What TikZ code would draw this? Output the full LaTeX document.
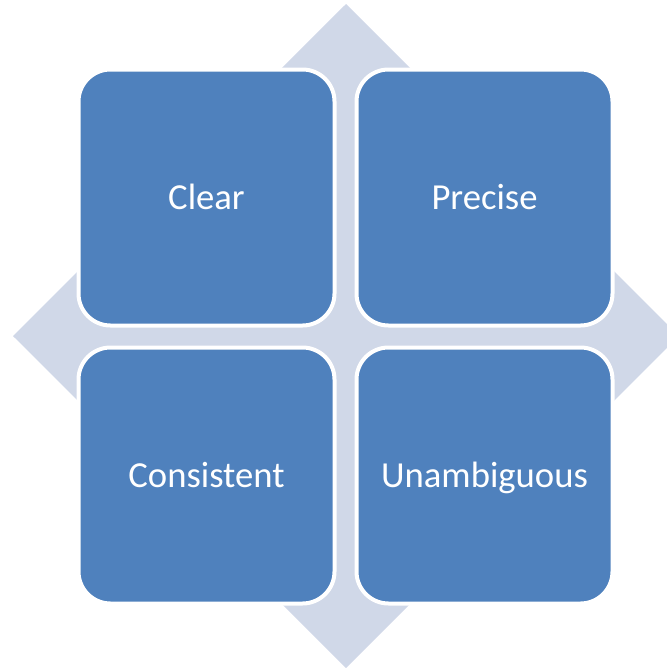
\documentclass[tikz,border=0pt]{standalone}
\usepackage{fontspec}
\setmainfont{Carlito}
\usetikzlibrary{positioning}

\definecolor{cellblue}{RGB}{79,129,189}
\definecolor{backgrey}{RGB}{208,216,232}

\tikzset{
  cell/.style={draw=white, line width=3pt, fill=cellblue, rounded corners=24pt,
    minimum width=192pt, minimum height=192pt, inner sep=0pt,
    text height=17.7pt, text depth=0pt,
    text=white, font=\fontsize{27.5}{32}\selectfont},
}

\begin{document}
\begin{tikzpicture}[x=0.75pt,y=0.75pt,yscale=-1,xscale=1]
\useasboundingbox (0,0) rectangle (667,668);

%Shape: Diamond [id:back]
\fill [backgrey] (346,4) -- (679,336) -- (346,668) -- (13,336) -- cycle ;

% Cells
\node [cell] (clear) at (206.5,197.5) {Clear};
\node [cell, right=13.5pt of clear] (precise) {Precise};
\node [cell, below=13.5pt of clear] (consistent) {Consistent};
\node [cell, below=13.5pt of precise] (unambiguous) {Unambiguous};

\end{tikzpicture}
\end{document}
